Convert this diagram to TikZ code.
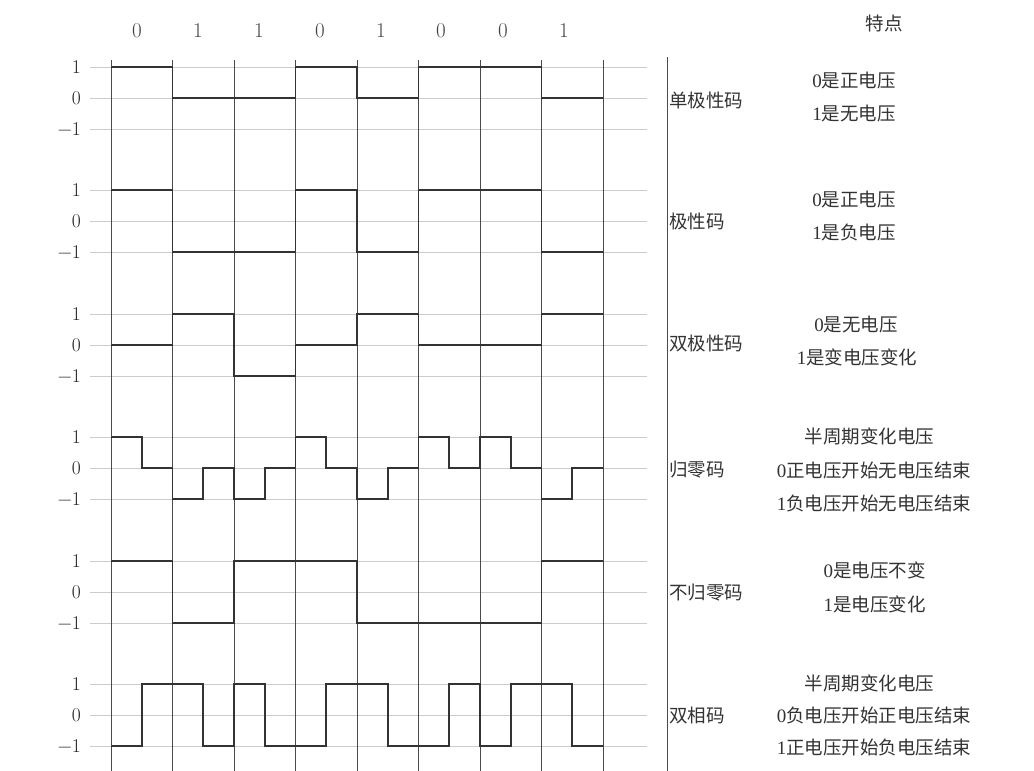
\documentclass[tikz,border=0pt]{standalone}
\usepackage{fontspec}
\newfontfamily\cjk{Noto Sans CJK SC}
\newfontfamily\dgfont{Liberation Serif}
\definecolor{gridgray}{HTML}{CCCCCC}
\definecolor{vgray}{HTML}{4A4A4A}
\definecolor{wavegray}{HTML}{333333}
\definecolor{txt}{HTML}{333333}
\definecolor{ticktxt}{HTML}{222222}
\definecolor{bitgray}{HTML}{444444}
\newcommand\bitd[1]{{\dgfont\fontsize{19}{20}\selectfont #1}}
\newcommand\wavepath[3]{\draw[wave] (111,{#1-31*(#2)}) \foreach \l [count=\k] in {#3} { -| ({111+30.75*\k},{#1-31*(\l)}) } -- ++(30.75,0);}
\begin{document}
\begin{tikzpicture}[x=1pt,y=-1pt,
  grid/.style={draw=gridgray, line width=0.9pt},
  vline/.style={draw=vgray, line width=0.9pt},
  wave/.style={draw=wavegray, line width=1.6pt, line join=miter},
  tick/.style={anchor=east, inner sep=0pt, text=ticktxt, font=\fontsize{19.5}{20}\selectfont},
  bit/.style={inner sep=0pt, text=bitgray, font=\fontsize{21}{24}\selectfont},
  codename/.style={anchor=west, inner sep=0pt, text=txt, font=\cjk\fontsize{18.5}{20}\selectfont},
  desc/.style={inner sep=0pt, text=txt, font=\cjk\fontsize{18.5}{20}\selectfont}]
\useasboundingbox (0,0) rectangle (1034,771);
\fill[white] (0,0) rectangle (1034,771);
% grid lines and tick labels
\foreach \yz [count=\r] in {98,221,345,468,592,715}{
  \foreach \d in {-31,0,31}{
    \draw[grid] (90,{\yz+\d}) -- (647,{\yz+\d});
  }
  \node[tick] (tp\r) at (81,{\yz-31}) {1};
  \node[tick] (tz\r) at (81,{\yz}) {0};
  \node[tick] (tm\r) at (81,{\yz+31}) {−1};
}
% vertical bit boundaries
\foreach \i in {0,...,8}{
  \draw[vline] ({111+61.5*\i},60) -- ({111+61.5*\i},771);
}
% separator
\draw[vline] (667,57) -- (667,771);
% bit labels
\foreach \x/\b [count=\k] in {137/0,198/1,259/1,320/0,381/1,441/0,503/0,564/1}{
  \node[bit] (b\k) at (\x,30.5) {\b};
}
% waveforms
\wavepath{98}{1}{1,0,0,0,0,1,1,0,0,1,1,1,1,0,0}
\wavepath{221}{1}{1,-1,-1,-1,-1,1,1,-1,-1,1,1,1,1,-1,-1}
\wavepath{345}{0}{0,1,1,-1,-1,0,0,1,1,0,0,0,0,1,1}
\wavepath{468}{1}{0,-1,0,-1,0,1,0,-1,0,1,0,1,0,-1,0}
\wavepath{592}{1}{1,-1,-1,1,1,1,1,-1,-1,-1,-1,-1,-1,1,1}
\wavepath{715}{-1}{1,1,-1,1,-1,-1,1,1,-1,-1,1,-1,1,1,-1}
% code names
\node[codename] (n1) at (669,100) {单极性码};
\node[codename] (n2) at (669,221.5) {极性码};
\node[codename] (n3) at (669,343) {双极性码};
\node[codename] (n4) at (669,469.5) {归零码};
\node[codename] (n5) at (669,592.5) {不归零码};
\node[codename] (n6) at (669,715.5) {双相码};
% characteristics
\node[desc] (hd) at (884,23) {特点};
\node[desc] (d1a) at (854,80) {\bitd{0}是正电压};
\node[desc] (d1b) at (854,113.5) {\bitd{1}是无电压};
\node[desc] (d2a) at (854,199.5) {\bitd{0}是正电压};
\node[desc] (d2b) at (854,232.5) {\bitd{1}是负电压};
\node[desc] (d3a) at (856,324) {\bitd{0}是无电压};
\node[desc] (d3b) at (857,357.5) {\bitd{1}是变电压变化};
\node[desc] (d4a) at (869.5,436.5) {半周期变化电压};
\node[desc] (d4b) at (874,470.5) {\bitd{0}正电压开始无电压结束};
\node[desc] (d4c) at (874,503) {\bitd{1}负电压开始无电压结束};
\node[desc] (d5a) at (874.5,570.5) {\bitd{0}是电压不变};
\node[desc] (d5b) at (874.5,604.5) {\bitd{1}是电压变化};
\node[desc] (d6a) at (869.5,683.5) {半周期变化电压};
\node[desc] (d6b) at (874,715.5) {\bitd{0}负电压开始正电压结束};
\node[desc] (d6c) at (874,747.5) {\bitd{1}正电压开始负电压结束};
\end{tikzpicture}
\end{document}
